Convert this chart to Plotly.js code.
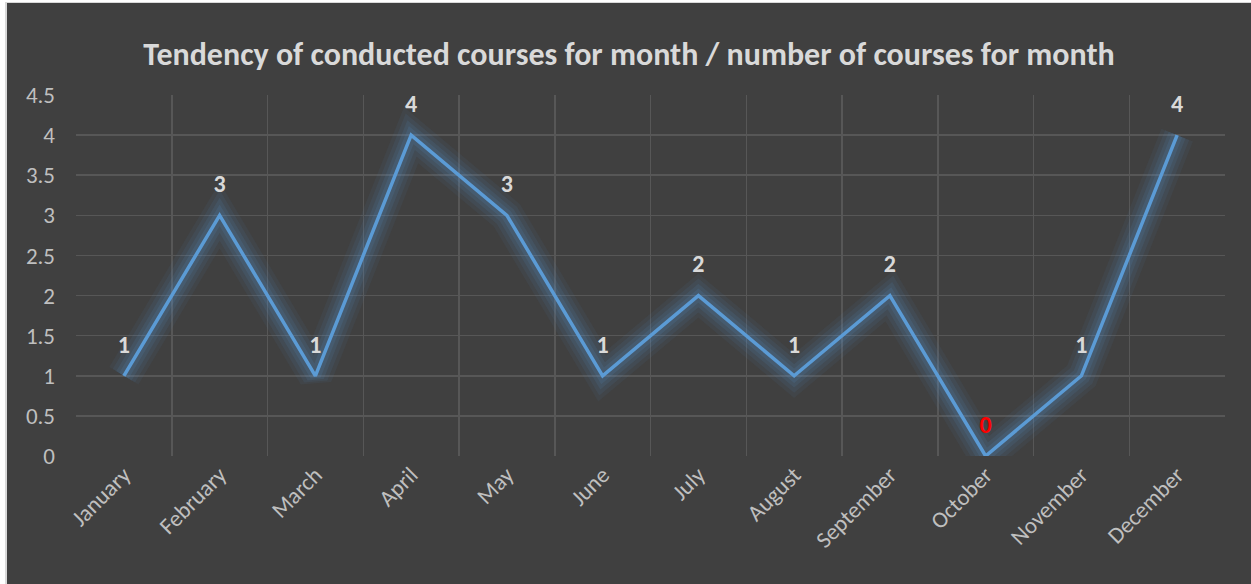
<!DOCTYPE html>
<html>
<head>
<meta charset="utf-8">
<script src="https://cdn.plot.ly/plotly-3.0.1.min.js"></script>
<style>
  html, body { margin: 0; padding: 0; background: #ffffff; }
  #wrap { position: absolute; left: 5px; top: 2px; width: 1246px; height: 582px;
          border-left: 2px solid #d9d9d9; border-top: 1px solid #d9d9d9; box-sizing: border-box; }
  #chart { position: absolute; left: 0; top: 0; width: 1244px; height: 581px; }
</style>
</head>
<body>
<div id="wrap"><div id="chart"></div></div>
<script>
const months = ["January","February","March","April","May","June","July","August","September","October","November","December"];
const courses = [1, 3, 1, 4, 3, 1, 2, 1, 2, 0, 1, 4];
const labelColors = ["#d9d9d9","#d9d9d9","#d9d9d9","#d9d9d9","#d9d9d9","#d9d9d9","#d9d9d9","#d9d9d9","#d9d9d9","#ff0000","#d9d9d9","#d9d9d9"];
const yTicks = [0, 0.5, 1, 1.5, 2, 2.5, 3, 3.5, 4, 4.5];
const yTickText = ["0","0.5","1","1.5","2","2.5","3","3.5","4","4.5"];

const FONT = "Carlito, Calibri, Lato, 'Open Sans', sans-serif";
const BLUE = "#5b9bd5";

const glow = [
  {w: 34, c: "rgba(91,155,213,0.06)"},
  {w: 26, c: "rgba(91,155,213,0.08)"},
  {w: 18, c: "rgba(91,155,213,0.10)"},
  {w: 11, c: "rgba(91,155,213,0.12)"}
].map(g => ({
  x: months, y: courses, type: "scatter", mode: "lines",
  line: {color: g.c, width: g.w, shape: "linear"},
  hoverinfo: "skip", showlegend: false, cliponaxis: false
}));

const mainLine = {
  x: months, y: courses, type: "scatter", mode: "lines",
  line: {color: BLUE, width: 3.5},
  showlegend: false, cliponaxis: false
};

const labels = {
  x: months, y: courses, type: "scatter", mode: "markers+text",
  text: courses.map(String), textposition: "top center",
  textfont: {family: FONT, size: 24, color: labelColors, weight: "bold"},
  marker: {size: 26, color: "rgba(0,0,0,0)"},
  hoverinfo: "skip", showlegend: false, cliponaxis: false
};

const layout = {
  width: 1244, height: 581,
  paper_bgcolor: "#404040", plot_bgcolor: "#404040",
  margin: {l: 69, r: 26, t: 92, b: 128},
  title: {
    text: "<b>Tendency of conducted courses for month / number of courses for month</b>",
    font: {family: FONT, size: 32, color: "#d9d9d9"},
    x: 0.5, xanchor: "center", y: 1, yref: "paper", yanchor: "bottom", pad: {b: 30}
  },
  xaxis: {
    type: "category", tickson: "boundaries", ticks: "",
    showgrid: true, gridcolor: "#575757", gridwidth: 1.5,
    tickangle: -45, tickfont: {family: FONT, size: 23, color: "#bfbfbf"},
    showline: false, zeroline: false, range: [-0.5, 11.5], fixedrange: true
  },
  yaxis: {
    range: [0, 4.5], tickvals: yTicks, ticktext: yTickText,
    showgrid: true, gridcolor: "#575757", gridwidth: 1.5,
    tickfont: {family: FONT, size: 23, color: "#bfbfbf"},
    ticklabelstandoff: 20, zeroline: false, showline: false, fixedrange: true
  },
  font: {family: FONT, color: "#bfbfbf"}
};

Plotly.newPlot("chart", [...glow, mainLine, labels], layout, {displayModeBar: false, staticPlot: true});
</script>
</body>
</html>
